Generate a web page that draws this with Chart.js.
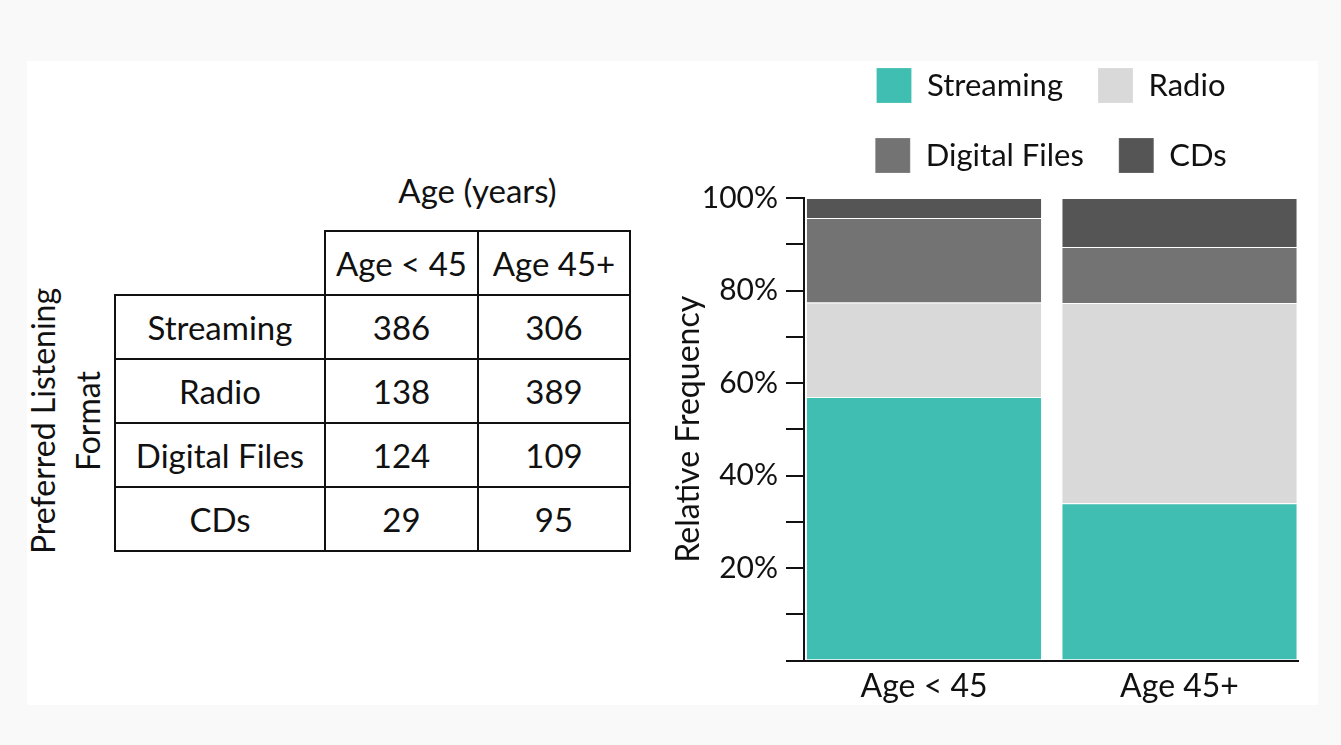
<!DOCTYPE html>
<html>
<head>
<meta charset="utf-8">
<script src="https://cdn.jsdelivr.net/npm/chart.js@4.4.1/dist/chart.umd.min.js"></script>
<style>
  html, body { margin: 0; padding: 0; background: #f9f9f9; width: 1341px; height: 745px; overflow: hidden; font-family: Lato, "Noto Sans", sans-serif; color: #111; }
  #panel { position: absolute; left: 27px; top: 61px; width: 1291px; height: 644px; background: #fff; }
  .cell { position: absolute; box-sizing: border-box; border: 2px solid #111; display: flex; align-items: center; justify-content: center; font-size: 33px; }
  #ageTitle { position: absolute; left: 325px; width: 305px; top: 170px; height: 40px; line-height: 40px; text-align: center; font-size: 33px; }
  #rowTitle { position: absolute; left: -95px; top: 376px; width: 320px; height: 90px; line-height: 45px; text-align: center; font-size: 32px; transform: rotate(-90deg); }
  #chartBox { position: absolute; left: 660px; top: 0px; width: 650px; height: 717px; }
</style>
</head>
<body>
<div id="panel"></div>
<div id="ageTitle">Age (years)</div>
<div id="rowTitle">Preferred Listening<br>Format</div>
<div id="table"></div>
<div id="chartBox"><canvas id="c"></canvas></div>
<script>
// ---- data ----
const ageGroups = ['Age < 45', 'Age 45+'];
const formats = ['Streaming', 'Radio', 'Digital Files', 'CDs'];
const countsUnder45 = [386, 138, 124, 29];
const counts45Plus = [306, 389, 109, 95];
// relative frequencies (%) per age group, as shown in the stacked bars
const streamingPct = [57.0, 34.0];
const radioPct = [20.4, 43.3];
const digitalPct = [18.3, 12.1];
const cdsPct = [4.3, 10.6];
const yTickStep = 10;
const yLabelStep = 20;

// ---- table (layout constants) ----
const colX = [115, 325, 478, 630];
const rowY = [231, 295, 359, 423, 487, 551];
const tableEl = document.getElementById('table');
function addCell(x0, x1, y0, y1, text) {
  const d = document.createElement('div');
  d.className = 'cell';
  d.style.left = (x0 - 1) + 'px';
  d.style.top = (y0 - 1) + 'px';
  d.style.width = (x1 - x0 + 2) + 'px';
  d.style.height = (y1 - y0 + 2) + 'px';
  d.textContent = text;
  tableEl.appendChild(d);
}
ageGroups.forEach((g, i) => addCell(colX[i + 1], colX[i + 2], rowY[0], rowY[1], g));
const countCols = [countsUnder45, counts45Plus];
formats.forEach((f, r) => {
  addCell(colX[0], colX[1], rowY[r + 1], rowY[r + 2], f);
  countCols.forEach((col, c) => addCell(colX[c + 1], colX[c + 2], rowY[r + 1], rowY[r + 2], String(col[r])));
});

// ---- chart ----
const seriesPct = [streamingPct, radioPct, digitalPct, cdsPct];
const seriesColors = ['#3fbeb1', '#d9d9d9', '#737373', '#555555'];
const FONT = 'Lato, "Noto Sans", sans-serif';

const datasets = formats.map((name, k) => ({
  label: name,
  data: seriesPct[k].map((v, i) => ({ x: i, y: v })),
  backgroundColor: seriesColors[k],
  borderColor: 'rgba(255,255,255,0.2)',
  borderWidth: 1,
  barPercentage: 0.924,
  categoryPercentage: 1.0
}));

new Chart(document.getElementById('c'), {
  type: 'bar',
  data: { datasets },
  options: {
    responsive: true,
    maintainAspectRatio: false,
    animation: false,
    layout: { padding: { top: 33, left: 9, right: 12, bottom: 4 } },
    plugins: {
      tooltip: { enabled: false },
      title: { display: false },
      subtitle: {
        display: true, text: '', position: 'top', weight: 500, fullSize: false,
        padding: 0, font: { size: 15, lineHeight: 1 }
      },
      legend: {
        display: true,
        position: 'top',
        fullSize: false,
        align: 'center',
        labels: {
          boxWidth: 35, boxHeight: 35, padding: 35,
          color: '#111',
          font: { family: FONT, size: 31 }
        }
      }
    },
    scales: {
      x: {
        type: 'linear',
        stacked: true,
        min: -0.4697,
        max: 1.4638,
        offset: false,
        afterBuildTicks: (scale) => { scale.ticks = ageGroups.map((_, i) => ({ value: i })); },
        ticks: {
          callback: (v) => ageGroups[v] !== undefined ? ageGroups[v] : '',
          color: '#111',
          font: { family: FONT, size: 32 },
          padding: 7,
          maxRotation: 0,
          autoSkip: false
        },
        grid: { display: false, drawTicks: false },
        border: { display: true, color: '#111', width: 2 }
      },
      y: {
        stacked: true,
        min: 0,
        max: 100,
        afterFit: (scale) => { scale.width = 135; },
        ticks: {
          stepSize: yTickStep,
          callback: (v) => (v % yLabelStep === 0 && v > 0) ? v + '%' : '',
          color: '#111',
          font: { family: FONT, size: 30 },
          padding: 8
        },
        grid: { display: true, drawOnChartArea: false, drawTicks: true, tickLength: 18, color: '#111', lineWidth: 2 },
        border: { display: true, color: '#111', width: 2 },
        title: {
          display: true,
          text: 'Relative Frequency',
          color: '#111',
          font: { family: FONT, size: 32 },
          padding: { top: 0, bottom: 0 }
        }
      }
    }
  }
});
</script>
</body>
</html>
